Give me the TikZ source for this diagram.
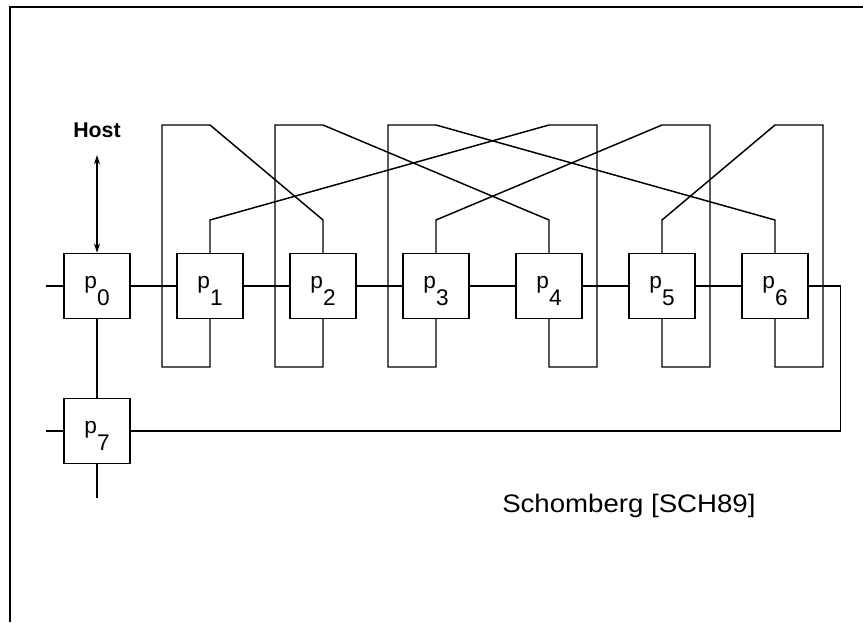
\documentclass[tikz,border=0pt]{standalone}
\usepackage{fontspec}
\setmainfont{Liberation Sans}
\newfontfamily\citefont[FakeStretch=1.09]{Liberation Sans}
\usetikzlibrary{arrows.meta}
\newcommand{\pname}[1]{p\raisebox{-0.75em}{#1}}
\tikzset{
  proc/.style={draw,fill=white,line width=1.1pt,minimum width=49.5pt,minimum height=48.75pt,inner sep=0pt,text height=17pt,text depth=12.75pt,font=\fontsize{17}{20}\selectfont},
  wire/.style={line width=1.1pt},
  stub/.style={line width=2pt},
  frame/.style={line width=1.8pt},
  hostarr/.style={{Stealth[length=7pt,width=4.5pt]}-{Stealth[length=7pt,width=4.5pt]},line width=1.4pt},
  hostlbl/.style={font=\fontsize{16}{19}\selectfont\bfseries,inner sep=0pt},
  cite/.style={font=\citefont\fontsize{19}{22}\selectfont,inner sep=0pt},
}
\begin{document}
\begin{tikzpicture}[x=0.75pt,y=-0.75pt]
\useasboundingbox (0,0) rectangle (863,622);
\draw[frame] (863,7) -- (10,7) -- (10,622);
% wire levels
\coordinate (top) at (0,125);\coordinate (bend) at (0,220);\coordinate (low) at (0,367);
% left loops: bottom of one to top of another
\draw[wire] (210,286) -- (210,286 |- low) -- ++(-48,0) |- (210,286 |- top) -- (323,286 |- bend) -- (323,286);
\draw[wire] (323,286) -- (323,286 |- low) -- ++(-48,0) |- (323,286 |- top) -- (549,286 |- bend) -- (549,286);
\draw[wire] (436,286) -- (436,286 |- low) -- ++(-48,0) |- (436,286 |- top) -- (775,286 |- bend) -- (775,286);
% right loops: top of one to bottom of another
\draw[wire] (210,286) -- (210,286 |- bend) -- (549,286 |- top) -- ++(48,0) |- (549,286 |- low) -- (549,286);
\draw[wire] (436,286) -- (436,286 |- bend) -- (662,286 |- top) -- ++(48,0) |- (662,286 |- low) -- (662,286);
\draw[wire] (662,286) -- (662,286 |- bend) -- (775,286 |- top) -- ++(48,0) |- (775,286 |- low) -- (775,286);
% processors
\node[proc] (p0) at (97,286) {\pname{0}};
\node[proc] (p1) at (210,286) {\pname{1}};
\node[proc] (p2) at (323,286) {\pname{2}};
\node[proc] (p3) at (436,286) {\pname{3}};
\node[proc] (p4) at (549,286) {\pname{4}};
\node[proc] (p5) at (662,286) {\pname{5}};
\node[proc] (p6) at (775,286) {\pname{6}};
\node[proc] (p7) at (97,431) {\pname{7}};
\draw[wire] (p0) -- (p1) -- (p2) -- (p3) -- (p4) -- (p5) -- (p6);
\draw[wire] (p0) -- (p7);\draw[wire] (p6.east) -- ++(32,0) |- (p7.east);
\draw[stub] (p0.west) -- ++(-17,0);\draw[stub] (p7.west) -- ++(-17,0);\draw[stub] (p7.south) -- ++(0,34);
\node[hostlbl] (host) at (97,130) {Host};
\draw[hostarr,shorten <=13pt] (host.south) -- (p0.north);
\node[cite,anchor=base west] (src) at (502,512) {Schomberg [SCH89]};
\end{tikzpicture}
\end{document}
